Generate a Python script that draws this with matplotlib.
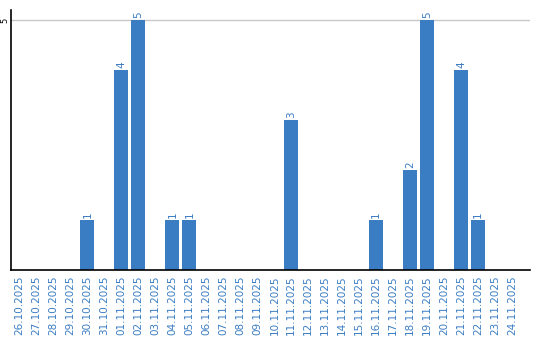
import matplotlib.pyplot as plt
import numpy as np

dates = [
    "26.10.2025", "27.10.2025", "28.10.2025", "29.10.2025", "30.10.2025",
    "31.10.2025", "01.11.2025", "02.11.2025", "03.11.2025", "04.11.2025",
    "05.11.2025", "06.11.2025", "07.11.2025", "08.11.2025", "09.11.2025",
    "10.11.2025", "11.11.2025", "12.11.2025", "13.11.2025", "14.11.2025",
    "15.11.2025", "16.11.2025", "17.11.2025", "18.11.2025", "19.11.2025",
    "20.11.2025", "21.11.2025", "22.11.2025", "23.11.2025", "24.11.2025",
]
counts = [0, 0, 0, 0, 1, 0, 4, 5, 0, 1,
          1, 0, 0, 0, 0, 0, 3, 0, 0, 0,
          0, 1, 0, 2, 5, 0, 4, 1, 0, 0]

BAR_COLOR = "#3b7dc3"
TEXT_COLOR = "#3b7dc3"

fig = plt.figure(figsize=(5.4, 3.4), dpi=100)
ax = fig.add_axes([11 / 540, 70 / 340, 519 / 540, 260 / 340])

x = np.arange(len(dates))
ax.bar(x, counts, width=0.82, color=BAR_COLOR, zorder=2)

for xi, c in zip(x, counts):
    if c > 0:
        ax.text(xi, c + 0.05, str(c), rotation=90, ha="center", va="bottom",
                fontsize=7.5, color=TEXT_COLOR)

ax.set_xlim(-0.5, 30.05)
ax.set_ylim(0, 5.2)
ax.set_yticks([5])
ax.set_yticklabels(["5"], rotation=90, va="center", fontsize=6)
ax.tick_params(axis="y", length=0, pad=1)
ax.axhline(5, color="#c8c8c8", linewidth=1, zorder=1)

ax.set_xticks(x)
ax.set_xticklabels(dates, rotation=90, fontsize=7.5, color=TEXT_COLOR)
ax.tick_params(axis="x", length=0, pad=4)

ax.spines["top"].set_visible(False)
ax.spines["right"].set_visible(False)
ax.spines["left"].set_linewidth(1.2)
ax.spines["bottom"].set_linewidth(1.2)

fig.savefig("out.png", dpi=100)
